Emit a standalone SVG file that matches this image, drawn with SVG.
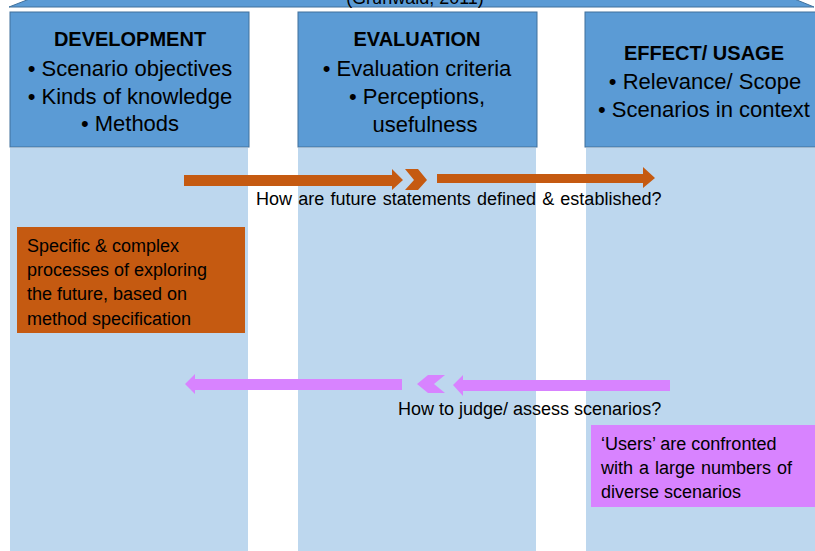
<svg xmlns="http://www.w3.org/2000/svg" width="815" height="551" viewBox="0 0 815 551">
  <style>
    .hdr { fill: #5B9BD5; stroke: #41719C; stroke-width: 1; }
    .body { fill: #BDD7EE; }
    .t { font-family: "Liberation Sans", Arial, sans-serif; fill: #000; }
    .title { font-size: 20px; font-weight: bold; text-anchor: middle; }
    .item { font-size: 22px; text-anchor: middle; }
    .note { font-size: 18px; }
    .orange { fill: #C55A11; }
    .pink { fill: #D883FF; }
  </style>
  <rect width="815" height="551" fill="#FFFFFF"/>

  <!-- banner at the top with citation -->
  <g id="banner">
    <polygon points="9,7 32,-2 792,-2 814,7" fill="#5B9BD5" stroke="#41719C" stroke-width="1"/>
    <text class="t" x="415" y="4" font-size="18" text-anchor="middle">(Grünwald, 2011)</text>
  </g>

  <!-- column backgrounds -->
  <g id="columns">
    <rect class="body" x="10" y="148" width="238" height="403"/>
    <rect class="body" x="298" y="148" width="238" height="403"/>
    <rect class="body" x="586" y="148" width="229" height="403"/>
  </g>

  <g id="development">
    <rect class="hdr" x="10" y="12" width="239" height="135"/>
    <text class="t title" x="130" y="46">DEVELOPMENT</text>
    <text class="t item" x="130" y="76">• Scenario objectives</text>
    <text class="t item" x="130" y="104">• Kinds of knowledge</text>
    <text class="t item" x="130" y="131">• Methods</text>
  </g>

  <g id="evaluation">
    <rect class="hdr" x="298" y="12" width="239" height="135"/>
    <text class="t title" x="417" y="46">EVALUATION</text>
    <text class="t item" x="417" y="76">• Evaluation criteria</text>
    <text class="t item" x="417" y="104">• Perceptions,</text>
    <text class="t item" x="425" y="132">usefulness</text>
  </g>

  <g id="effect-usage">
    <rect class="hdr" x="585" y="12" width="235" height="135"/>
    <text class="t title" x="704" y="60">EFFECT/ USAGE</text>
    <text class="t item" x="705" y="89">• Relevance/ Scope</text>
    <text class="t item" x="704" y="117">• Scenarios in context</text>
  </g>

  <!-- flow arrows -->
  <g id="connectors">
    <polygon class="orange" points="184,175 392,175 392,169 403,180 392,190 392,186 184,186"/>
    <polygon class="orange" points="405,169 418,169 427,180 418,190 405,190 414,180"/>
    <polygon class="orange" points="437,174 643,174 643,167 655,178 643,188 643,183 437,183"/>

    <polygon class="pink" points="185,384 195,374 195,379 402,379 402,390 195,390 195,394"/>
    <polygon class="pink" points="417,384 428,375 445,375 434,384 445,393 428,393"/>
    <polygon class="pink" points="453,385 463,375 463,380 670,380 670,391 463,391 463,396"/>
  </g>

  <g id="question-top">
    <text class="t note" x="256" y="205" word-spacing="1.2">How are future statements defined &amp; established?</text>
  </g>
  <g id="question-bottom">
    <text class="t note" x="398" y="415">How to judge/ assess scenarios?</text>
  </g>

  <g id="exploring-note">
    <rect class="orange" x="17" y="227" width="228" height="106"/>
    <text class="t note" x="27" y="252">Specific &amp; complex</text>
    <text class="t note" x="27" y="276">processes of exploring</text>
    <text class="t note" x="27" y="300">the future, based on</text>
    <text class="t note" x="27" y="325">method specification</text>
  </g>

  <g id="users-note">
    <rect class="pink" x="591" y="425" width="224" height="82"/>
    <text class="t note" x="601" y="450">‘Users’ are confronted</text>
    <text class="t note" x="601" y="474" word-spacing="1">with a large numbers of</text>
    <text class="t note" x="601" y="498">diverse scenarios</text>
  </g>
</svg>
